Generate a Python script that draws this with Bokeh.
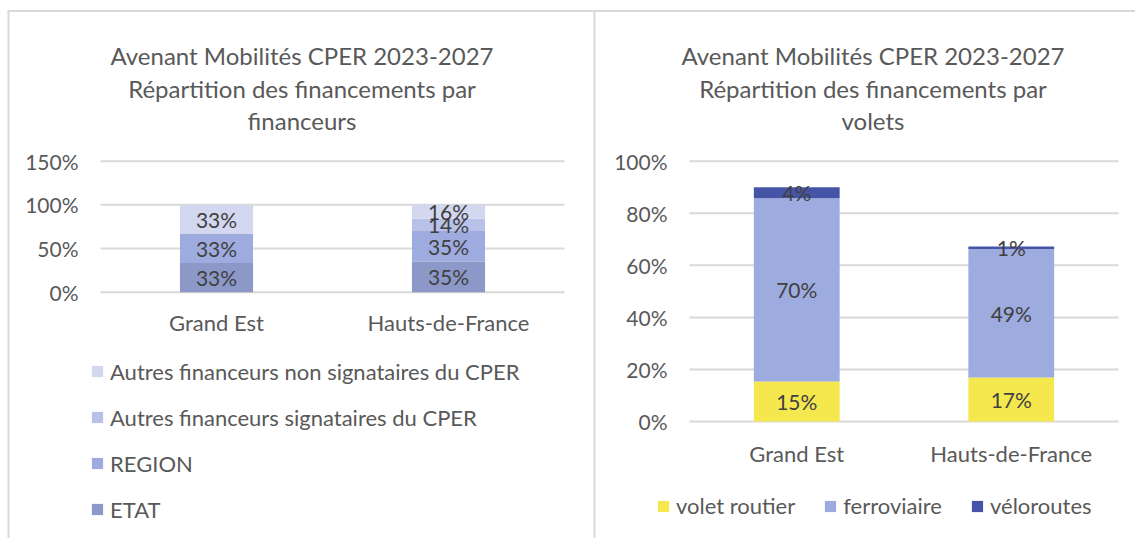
from bokeh.plotting import figure
from bokeh.models import (ColumnDataSource, Legend, LegendItem, Range1d)
from bokeh.core.properties import value
from bokeh.embed import file_html
from bokeh.resources import INLINE

# ---------------- data ----------------
regions = ["Grand Est", "Hauts-de-France"]

# chart 1 : financeurs (percent)
fin_series = ["ETAT", "REGION", "Autres financeurs signataires du CPER",
              "Autres financeurs non signataires du CPER"]
etat = [33.3, 35.0]
region = [33.3, 35.0]
autres_sign = [0.0, 14.0]
autres_non_sign = [33.3, 16.0]
fin_colors = ["#8C98C8", "#9EABDF", "#B9C1E8", "#D3D7EF"]
fin_ticks = [0, 50, 100, 150]

# chart 2 : volets (percent)
vol_series = ["volet routier", "ferroviaire", "véloroutes"]
routier = [15.4, 16.9]
ferroviaire = [70.4, 49.4]
veloroutes = [4.2, 0.9]
vol_colors = ["#F4E84E", "#9EABDF", "#4654A8"]
vol_ticks = [0, 20, 40, 60, 80, 100]

title1 = ["Avenant Mobilités CPER 2023-2027", "Répartition des financements par", "financeurs"]
title2 = ["Avenant Mobilités CPER 2023-2027", "Répartition des financements par", "volets"]

# ---------------- style / layout constants ----------------
W, H = 1135, 538
FONT = value("Lato")
GREY = "#595959"
DARK = "#404040"
GRID = "#D9D9D9"


def lin_range(v0, p0, v1, p1, pmin, pmax):
    """Range1d so that value v0 sits at pixel p0 and v1 at pixel p1 on an axis of pixels pmin..pmax."""
    k = (p1 - p0) / (v1 - v0)
    return Range1d(v0 + (pmin - p0) / k, v0 + (pmax - p0) / k)


p = figure(width=W, height=H, output_backend="svg", toolbar_location=None,
           x_axis_type=None, y_axis_type=None, title=None,
           x_range=Range1d(0, W), y_range=Range1d(H, 0),
           min_border=0, min_border_left=0, min_border_right=0,
           min_border_top=0, min_border_bottom=0,
           outline_line_color=None, background_fill_color="white",
           border_fill_color="white")
p.xgrid.visible = False
p.ygrid.visible = False

# chart frames (pixel positions of the plotting areas)
# chart 1: x 100..564, 0% at y=291.7, 150% at y=160.7
p.extra_x_ranges["x1"] = lin_range(0, 100, 2, 564, 0, W)
p.extra_y_ranges["y1"] = lin_range(0, 291.7, 150, 160.7, H, 0)
# chart 2: x 689..1118, 0% at y=421, 100% at y=160.7
p.extra_x_ranges["x2"] = lin_range(0, 689, 2, 1118, 0, W)
p.extra_y_ranges["y2"] = lin_range(0, 421, 100, 160.7, H, 0)

# panel borders
p.segment(x0=[7, 8, 594], y0=[10.5, 10, 10], x1=[W, 8, 594], y1=[10.5, H, H],
          line_color="#D9D9D9", line_width=2)


def draw_chart(xr, yr, ticks, series_vals, series_names, colors, bar_w,
               tick_x, cat_y, title_lines, title_x, legend_loc, legend_orient, legend_order,
               legend_spacing):
    n = len(regions)
    xs = [i + 0.5 for i in range(n)]
    # gridlines
    p.segment(x0=[0] * len(ticks), x1=[n] * len(ticks), y0=ticks, y1=ticks,
              x_range_name=xr, y_range_name=yr, line_color=GRID, line_width=2)
    # y tick labels
    p.text(x=[tick_x] * len(ticks), y=ticks, text=[f"{t}%" for t in ticks],
           y_range_name=yr, text_align="right", text_baseline="middle",
           text_font=FONT, text_font_size="21px", text_color=GREY)
    # category labels
    p.text(x=xs, y=[cat_y] * n, text=regions, x_range_name=xr,
           text_align="center", text_baseline="middle",
           text_font=FONT, text_font_size="22px", text_color=GREY)
    # stacked bars
    data = dict(x=xs)
    keys = []
    for k, vals in enumerate(series_vals):
        data[f"s{k}"] = vals
        keys.append(f"s{k}")
    src = ColumnDataSource(data)
    rs = p.vbar_stack(keys, x="x", width=bar_w, color=colors, line_color=None,
                      source=src, x_range_name=xr, y_range_name=yr)
    # data labels at segment centres
    lx, ly, lt = [], [], []
    for i in range(n):
        base = 0.0
        for vals in series_vals:
            v = vals[i]
            if v > 0:
                lx.append(xs[i])
                ly.append(base + v / 2.0)
                lt.append(f"{round(v)}%")
            base += v
    p.text(x=lx, y=ly, text=lt, x_range_name=xr, y_range_name=yr,
           text_align="center", text_baseline="middle",
           text_font=FONT, text_font_size="21px", text_color=DARK)
    # title
    p.text(x=[title_x] * len(title_lines), y=[55, 88, 120], text=title_lines,
           text_align="center", text_baseline="alphabetic",
           text_font=FONT, text_font_size="24px", text_color=GREY)
    # legend
    items = [LegendItem(label=series_names[i], renderers=[rs[i]]) for i in legend_order]
    leg = Legend(items=items, location=legend_loc, orientation=legend_orient,
                 glyph_width=14, glyph_height=14, label_height=26, spacing=legend_spacing,
                 label_standoff=6, padding=0, margin=0, border_line_color=None,
                 background_fill_alpha=0, label_text_font="Lato",
                 label_text_font_size="22px", label_text_color=GREY)
    p.add_layout(leg, "center")


draw_chart("x1", "y1", fin_ticks, [etat, region, autres_sign, autres_non_sign], fin_series,
           fin_colors, 0.315, 78, 322, title1, 301.5, (90, 15.5), "vertical", [3, 2, 1, 0], 19)
draw_chart("x2", "y2", vol_ticks, [routier, ferroviaire, veloroutes], vol_series,
           vol_colors, 0.40, 667, 453, title2, 872.5, (656, 19), "horizontal", [0, 1, 2], 28)

open("out.html", "w").write(file_html(p, INLINE))
